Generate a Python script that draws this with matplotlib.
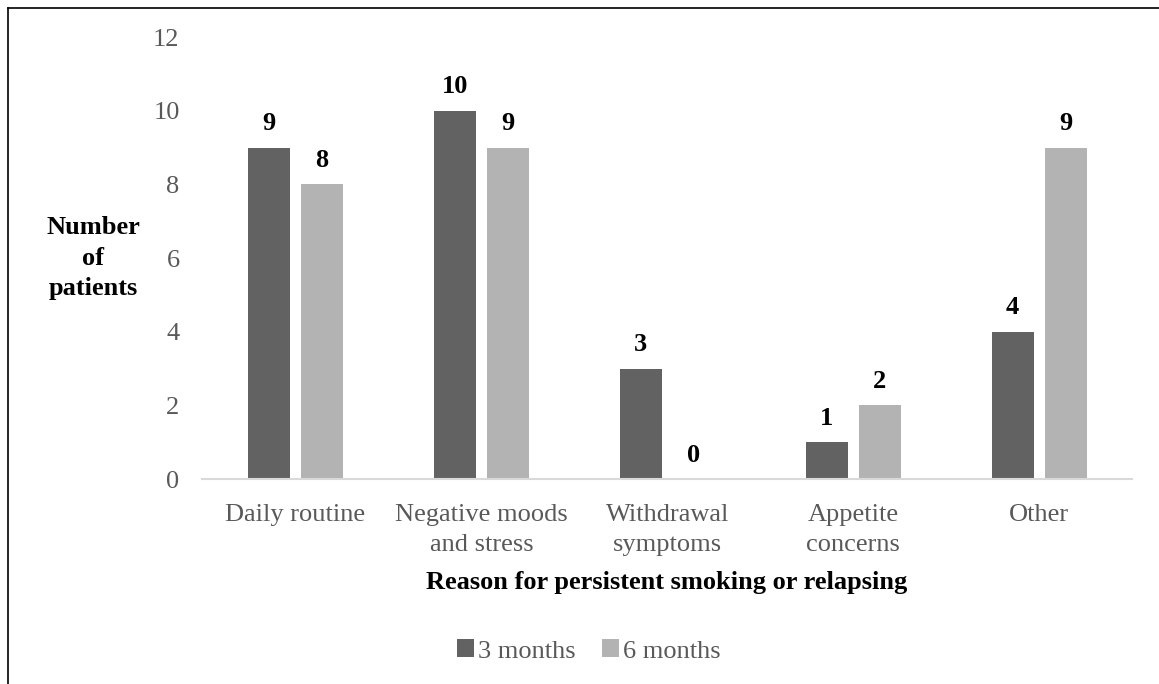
import matplotlib
matplotlib.use("Agg")
import matplotlib.pyplot as plt
from matplotlib.patches import Patch
from matplotlib.lines import Line2D
import numpy as np

categories = ["Daily routine", "Negative moods\nand stress", "Withdrawal\nsymptoms",
              "Appetite\nconcerns", "Other"]
series_names = ["3 months", "6 months"]
three_months = [9, 10, 3, 1, 4]
six_months = [8, 9, 0, 2, 9]
y_ticks = [0, 2, 4, 6, 8, 10, 12]

dark = "#626262"
light = "#b3b3b3"
tick_gray = "#595959"
fs = 19

plt.rcParams["font.family"] = ["Liberation Serif", "DejaVu Serif"]

fig = plt.figure(figsize=(11.59, 6.84), dpi=100)
ax = fig.add_axes([0.1747, 0.2997, 0.9767 - 0.1747, 0.9459 - 0.2997])

x = np.arange(len(categories))
w = 0.226
off = 0.1425
b1 = ax.bar(x - off, three_months, w, color=dark)
b2 = ax.bar(x + off, six_months, w, color=light)

for bars, vals in ((b1, three_months), (b2, six_months)):
    for bar, v in zip(bars, vals):
        ax.annotate(str(v), (bar.get_x() + bar.get_width() / 2, v),
                    xytext=(0, 12.5), textcoords="offset points",
                    ha="center", va="baseline", fontsize=fs,
                    fontweight="bold", color="black")

ax.set_xlim(-0.5, len(categories) - 0.5)
ax.set_ylim(0, 12)
ax.set_yticks(y_ticks)
ax.set_xticks(x)
ax.set_xticklabels(categories, linespacing=1.45)
ax.tick_params(axis="both", length=0, labelsize=fs, colors=tick_gray)
ax.tick_params(axis="y", pad=16.5)
ax.tick_params(axis="x", pad=18)
for s in ("top", "right", "left"):
    ax.spines[s].set_visible(False)
ax.spines["bottom"].set_color("#d9d9d9")
ax.spines["bottom"].set_linewidth(1.5)

fig.text(93 / 1159, 1 - 258 / 684, "Number\nof\npatients", ha="center", va="center",
         fontsize=fs, fontweight="bold", color="black", linespacing=1.4)
fig.text(667 / 1159, 1 - 583 / 684, "Reason for persistent smoking or relapsing",
         ha="center", va="center", fontsize=fs, fontweight="bold", color="black")

handles = [Patch(facecolor=dark, edgecolor="none"), Patch(facecolor=light, edgecolor="none")]
fig.legend(handles, series_names, loc="center", bbox_to_anchor=(589 / 1159, 1 - 651 / 684),
           ncol=2, frameon=False, fontsize=fs, handlelength=0.65, handleheight=0.65,
           handletextpad=0.15, columnspacing=1.0, labelcolor=tick_gray)

# frame lines along the left and top edges of the figure
fig.add_artist(Line2D([8 / 1159, 8 / 1159], [0, 1 - 8 / 684], transform=fig.transFigure,
                      color="black", linewidth=1.2))
fig.add_artist(Line2D([8 / 1159, 1], [1 - 8 / 684, 1 - 8 / 684], transform=fig.transFigure,
                      color="black", linewidth=1.2))

fig.savefig("out.png", dpi=100)
